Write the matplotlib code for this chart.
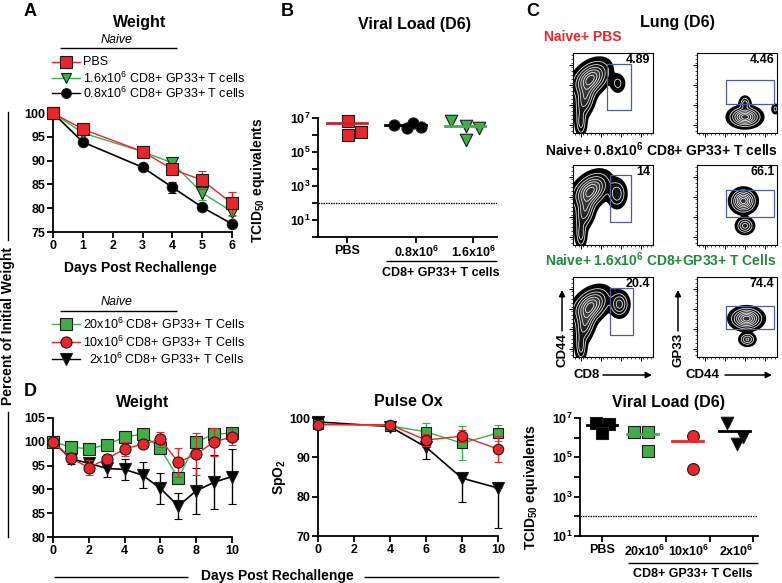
import matplotlib
matplotlib.use("Agg")
import matplotlib.pyplot as plt
import numpy as np
from matplotlib.colors import LinearSegmentedColormap
from matplotlib.patches import Rectangle
from matplotlib.ticker import NullLocator

plt.rcParams['font.family'] = 'Liberation Sans'
plt.rcParams['font.weight'] = 'bold'
plt.rcParams['mathtext.fontset'] = 'custom'
plt.rcParams['mathtext.rm'] = 'Liberation Sans:normal'
plt.rcParams['mathtext.it'] = 'Liberation Sans:italic:normal'
plt.rcParams['mathtext.bf'] = 'Liberation Sans:bold'

RED = '#e8262b'
GREEN = '#3fae49'
DKGREEN = '#23893a'
EDGE = '#1a1a1a'

# ---- panel A: weight, days post rechallenge
a_days = [0, 1, 3, 4, 5, 6]
a_pbs = [100, 96.6, 91.9, 88.2, 85.9, 81.0]
a_pbs_err = [0.3, 0.6, 1.0, 1.3, 1.9, 2.4]
a_16 = [100, 95.8, 91.9, 89.5, 83.2, 79.3]
a_16_err = [0.3, 0.5, 0.8, 1.3, 1.4, 1.0]
a_08 = [100, 93.9, 88.6, 84.4, 80.2, 76.7]
a_08_err = [0.3, 0.4, 0.5, 1.2, 0.5, 0.5]

# ---- panel D: weight
d_days = [0, 1, 2, 3, 4, 5, 6, 7, 8, 9, 10]
d_20 = [100, 98.9, 98.5, 99.4, 101.0, 101.6, 98.6, 92.3, 100.0, 101.6, 101.8]
d_20_err = [0.3, 0.4, 0.4, 0.5, 0.5, 0.5, 0.8, 1.0, 0.6, 0.5, 0.6]
d_10 = [100, 96.5, 94.6, 96.4, 98.5, 99.5, 100.5, 95.7, 97.4, 100.0, 101.0]
d_10_err = [0.3, 0.5, 1.6, 1.0, 1.5, 0.8, 1.6, 3.0, 4.4, 2.9, 1.7]
d_2 = [100, 96.4, 95.5, 94.4, 94.2, 93.0, 90.2, 86.5, 89.7, 91.5, 92.7]
d_2_err = [0.3, 1.0, 1.0, 1.8, 2.2, 2.8, 3.3, 2.8, 4.9, 5.7, 5.8]

# ---- panel D: pulse ox
p_days = [0, 4, 6, 8, 10]
p_20 = [98.5, 98.0, 96.5, 93.6, 96.2]
p_20_err = [0.5, 0.8, 2.2, 4.3, 2.0]
p_10 = [98.3, 98.3, 94.4, 95.4, 92.1]
p_10_err = [0.5, 0.8, 1.5, 1.5, 3.3]
p_2 = [99.0, 97.8, 92.6, 84.7, 82.2]
p_2_err = [0.3, 0.8, 3.0, 6.1, 10.2]

# ---- panel B: viral load (D6)
b_labels = ['PBS', r'0.8x$\mathbf{10^{6}}$', r'1.6x$\mathbf{10^{6}}$']
b_pbs = [6.3e6, 9.6e5, 1.6e6]
b_pbs_jit = [0.02, 0.02, 0.22]
b_08 = [4.1e6, 2.6e6, 4.9e6, 2.9e6]
b_08_jit = [-0.26, -0.05, 0.05, 0.17]
b_16 = [6.9e6, 3.5e6, 5.4e5, 2.6e6]
b_16_jit = [-0.35, -0.11, -0.11, 0.10]
b_means = [4.9e6, 3.7e6, 3.2e6]

# ---- panel C: viral load (D6), bottom
c_labels = ['PBS', r'20x$\mathbf{10^{6}}$', r'10x$\mathbf{10^{6}}$', r'2x$\mathbf{10^{6}}$']
c_pbs = [5.9e6, 4.9e6, 1.7e6]
c_pbs_jit = [-0.13, 0.16, 0.0]
c_20 = [2.0e6, 2.0e6, 2.2e5]
c_20_jit = [-0.29, 0.02, 0.02]
c_10 = [1.2e6, 2.6e4]
c_10_jit = [0.02, 0.02]
c_2 = [5.9e6, 1.1e6, 4.8e5]
c_2_jit = [-0.22, 0.13, 0.0]
c_means = [4.5e6, 1.5e6, 7.1e5, 2.3e6]
lod = 100

# ---- panel C: flow plots, gate percentages
flow_pct = [['4.89', '4.46'], ['14', '66.1'], ['20.4', '74.4']]

W, H = 782, 583
fig = plt.figure(figsize=(W / 100, H / 100), dpi=100)


def px_axes(l, t, r, b):
    return fig.add_axes([l / W, 1 - b / H, (r - l) / W, (b - t) / H])


ov = fig.add_axes([0, 0, 1, 1], zorder=-1)
ov.set_xlim(0, W)
ov.set_ylim(H, 0)
ov.axis('off')


def txt(x, y, s, size=9, weight='bold', ha='center', va='center', **kw):
    ov.text(x, y, s, fontsize=size, fontweight=weight, ha=ha, va=va, **kw)


def hline(x0, x1, y, lw=1.0):
    ov.plot([x0, x1], [y, y], color='k', lw=lw, solid_capstyle='butt')


def style(ax):
    for s in ['top', 'right']:
        ax.spines[s].set_visible(False)
    for s in ['left', 'bottom']:
        ax.spines[s].set_linewidth(1.3)
    ax.tick_params(direction='out', length=4, width=1.3, labelsize=9, pad=1.5)


def series(ax, x, y, e, color, marker, ms, mfc, lower_only=False, z=3, lw=1.0):
    yerr = [e, np.zeros(len(e))] if lower_only else e
    ax.errorbar(x, y, yerr=yerr, color=color, lw=lw, marker=marker, ms=ms,
                mfc=mfc, mec=EDGE, mew=0.8, capsize=3, elinewidth=1,
                capthick=1, clip_on=False, zorder=z)


# ================= panel A =================
axA = px_axes(53, 113, 232, 232)
style(axA)
series(axA, a_days, a_08, a_08_err, 'k', 'o', 7.5, 'k', z=3, lw=1.2)
series(axA, a_days, a_16, a_16_err, GREEN, 'v', 8, GREEN, z=4)
series(axA, a_days, a_pbs, a_pbs_err, RED, 's', 9, RED, z=5)
axA.set_xlim(0, 6)
axA.set_ylim(75, 100)
axA.set_xticks(range(0, 7))
axA.set_yticks(range(75, 101, 5))

txt(30, 12, 'A', 13)
txt(140, 22, 'Weight', 11.5)
hline(60, 177, 48)
txt(117, 40, 'Naive', 9, 'normal', style='italic')
legA = [(62, RED, 's', 8, r'PBS'),
        (78, GREEN, 'v', 7.5, r'1.6x$10^{6}$ CD8+ GP33+ T cells'),
        (93, 'k', 'o', 7, r'0.8x$10^{6}$ CD8+ GP33+ T cells')]
for y, c, m, ms, lab in legA:
    ov.plot([52, 80], [y, y], color=c, lw=1)
    ov.plot([66], [y], marker=m, ms=ms, color=c, mec=EDGE, mew=0.8)
    txt(83, y, lab, 9, 'normal', ha='left')
txt(140, 268, 'Days Post Rechallenge', 10)

hline(60, 177, 311)
txt(117, 302, 'Naive', 9, 'normal', style='italic')
legD = [(324, GREEN, 's', 8, 83, r'20x$10^{6}$ CD8+ GP33+ T Cells'),
        (342, RED, 'o', 8, 83, r'10x$10^{6}$ CD8+ GP33+ T Cells'),
        (359, 'k', 'v', 8, 89, r'2x$10^{6}$ CD8+ GP33+ T Cells')]
for y, c, m, ms, tx, lab in legD:
    ov.plot([52, 80], [y, y], color=c, lw=1)
    ov.plot([66], [y], marker=m, ms=ms, color=c, mec=EDGE, mew=0.8)
    txt(tx, y, lab, 9, 'normal', ha='left')

txt(8, 326, 'Percent of Initial Weight', 10, rotation=90)
ov.plot([8, 8], [112, 240], color='k', lw=1)
ov.plot([8, 8], [412, 537], color='k', lw=1)

# ================= panel D =================
axD1 = px_axes(53, 418, 232, 537)
style(axD1)
series(axD1, d_days, d_2, d_2_err, 'k', 'v', 8.5, 'k', z=3, lw=1.2)
series(axD1, d_days, d_20, d_20_err, GREEN, 's', 8, GREEN, z=4)
series(axD1, d_days, d_10, d_10_err, RED, 'o', 8, RED, z=5)
axD1.set_xlim(0, 10)
axD1.set_ylim(80, 105)
axD1.set_xticks(range(0, 11, 2))
axD1.set_yticks(range(80, 106, 5))

axD2 = px_axes(318, 418, 498, 536)
style(axD2)
series(axD2, p_days, p_2, p_2_err, 'k', 'v', 8, 'k', lower_only=True, z=3, lw=1.2)
series(axD2, p_days, p_20, p_20_err, GREEN, 's', 7, GREEN, z=4)
series(axD2, p_days, p_10, p_10_err, RED, 'o', 7.5, RED, z=5)
axD2.set_xlim(0, 10)
axD2.set_ylim(70, 100)
axD2.set_xticks(range(0, 11, 2))
axD2.set_yticks(range(70, 101, 10))

txt(30, 392, 'D', 13)
txt(143, 402, 'Weight', 11.5)
txt(408, 402, 'Pulse Ox', 11.5)
txt(279, 477, r'SpO$_{\mathbf{2}}$', 10, rotation=90)
txt(277, 576, 'Days Post Rechallenge', 10)
hline(54, 188, 577)
hline(364, 499, 577)


# ================= viral load panels =================
def dots(ax, x0, vals, jit, marker, ms, color):
    ax.scatter([x0 + j for j in jit], vals, marker=marker, s=ms ** 2, c=color,
               edgecolors=EDGE, linewidths=0.8, zorder=4, clip_on=False)


def mean_bar(ax, xc, v, color, half=0.32):
    ax.plot([xc - half, xc + half], [v, v], color=color, lw=2, zorder=5)


def log_axis(ax, lo, hi):
    ax.set_yscale('log')
    ax.set_ylim(10 ** lo, 10 ** hi)
    ks = list(range(lo, hi + 1))
    ax.set_yticks([10.0 ** k for k in ks])
    ax.set_yticklabels([r'$\mathbf{10^{%d}}$' % k if k % 2 == 1 else '' for k in ks])
    ax.yaxis.set_minor_locator(NullLocator())
    ax.axhline(lod, color='k', lw=0.9, ls=(0, (1.2, 0.8)), zorder=1)


axB = px_axes(318, 118, 497, 237)
style(axB)
log_axis(axB, 0, 7)
dots(axB, 0, b_pbs, b_pbs_jit, 's', 9, RED)
dots(axB, 1, b_08, b_08_jit, 'o', 8, 'k')
dots(axB, 2, b_16, b_16_jit, 'v', 9, GREEN)
mean_bar(axB, 0, b_means[0], '#c8232c')
mean_bar(axB, 0.93, b_means[1], 'k')
mean_bar(axB, 1.87, b_means[2], GREEN)
axB.set_xlim(-0.46, 2.38)
axB.set_xticks([0, 1.1, 2.0])
axB.set_xticklabels(b_labels)
txt(287, 12, 'B', 13)
txt(415, 24, 'Viral Load (D6)', 11.5)
txt(258, 180, r'TCID$_{\mathbf{50}}$ equivalents', 10, rotation=90)
hline(386, 497, 261)
txt(441, 273, 'CD8+ GP33+ T cells', 9)

axC = px_axes(580, 418, 758, 536)
style(axC)
log_axis(axC, 1, 7)
dots(axC, 0, c_pbs, c_pbs_jit, 's', 8.5, 'k')
dots(axC, 1, c_20, c_20_jit, 's', 8.5, GREEN)
dots(axC, 2, c_10, c_10_jit, 'o', 8.5, RED)
dots(axC, 3, c_2, c_2_jit, 'v', 9, 'k')
for i, (v, c) in enumerate(zip(c_means, ['k', GREEN, RED, 'k'])):
    mean_bar(axC, i - 0.1 * (i > 0) + 0.05 * (i == 3), v, c, half=0.34)
axC.set_xlim(-0.49, 3.47)
axC.set_xticks([0, 1.42, 2.4, 3.36])
axC.set_xticklabels(c_labels)
for i, lab in enumerate(axC.get_xticklabels()):
    lab.set_ha('center' if i == 0 else 'right')
txt(668, 402, 'Viral Load (D6)', 11.5)
txt(531, 487, r'TCID$_{\mathbf{50}}$ equivalents', 10, rotation=90)
hline(628, 758, 563)
txt(693, 574, 'CD8+ GP33+ T Cells', 9)

# ================= panel C: flow plots =================
flow_cmap = LinearSegmentedColormap.from_list(
    'flow', [(0.0, '#000000'), (0.4, '#1c1c1c'), (0.75, '#474747'), (1.0, '#2c2c2c')])

# blobs: (cx, cy, sx, sy, rho, weight) in plot-relative units
cd8_blobs = [
    [(0.22, 0.68, 0.115, 0.11, 0.4, 1.0), (0.15, 0.42, 0.065, 0.12, 0.35, 0.55),
     (0.10, 0.13, 0.035, 0.09, 0.0, 0.35), (0.56, 0.62, 0.05, 0.065, 0.0, 0.2)],
    [(0.22, 0.68, 0.115, 0.11, 0.4, 1.0), (0.15, 0.42, 0.065, 0.12, 0.35, 0.55),
     (0.10, 0.13, 0.035, 0.09, 0.0, 0.35), (0.55, 0.64, 0.06, 0.09, 0.0, 0.42)],
    [(0.22, 0.64, 0.115, 0.11, 0.4, 1.0), (0.15, 0.40, 0.065, 0.12, 0.35, 0.55),
     (0.10, 0.12, 0.035, 0.09, 0.0, 0.35), (0.58, 0.66, 0.06, 0.08, 0.0, 0.55)],
]
gp33_blobs = [
    [(0.60, 0.20, 0.095, 0.06, 0.0, 1.0), (0.60, 0.37, 0.035, 0.045, 0.0, 0.35),
     (0.98, 0.30, 0.025, 0.035, 0.0, 0.18)],
    [(0.58, 0.55, 0.075, 0.07, 0.0, 1.0), (0.60, 0.24, 0.055, 0.05, 0.0, 0.5)],
    [(0.62, 0.48, 0.095, 0.065, 0.0, 1.0), (0.63, 0.22, 0.05, 0.04, 0.0, 0.45)],
]
cd8_gates = [(0.42, 0.72, 0.29, 0.86), (0.46, 0.73, 0.29, 0.875), (0.46, 0.75, 0.28, 0.86)]
gp33_gates = [(0.36, 0.96, 0.36, 0.66), (0.36, 0.96, 0.35, 0.69), (0.36, 0.96, 0.35, 0.64)]


def flow(ax, blobs, gate, label):
    g = np.linspace(0, 1, 200)
    X, Y = np.meshgrid(g, g)
    Z = np.zeros_like(X)
    for cx, cy, sx, sy, rho, w in blobs:
        dx = (X - cx) / sx
        dy = (Y - cy) / sy
        Z += w * np.exp(-(dx ** 2 - 2 * rho * dx * dy + dy ** 2) / (2 * (1 - rho ** 2)))
    Z /= Z.max()
    ax.imshow(np.ma.masked_less(Z, 0.05), extent=(0, 1, 0, 1), origin='lower',
              cmap=flow_cmap, vmin=0.05, vmax=1.0, interpolation='bilinear',
              aspect='auto', zorder=1)
    ax.contour(X, Y, Z, levels=[0.14, 0.27, 0.42, 0.58, 0.75, 0.9], colors='#f2f2f2',
               linewidths=0.55, zorder=2)
    ax.contour(X, Y, Z, levels=[0.05], colors='black', linewidths=1.4, zorder=3)
    ax.add_patch(Rectangle((gate[0], gate[2]), gate[1] - gate[0], gate[3] - gate[2],
                           fill=False, ec='#4b5d9c', lw=0.9, zorder=5))
    ax.text(0.97, 0.985, label, transform=ax.transAxes, ha='right', va='top',
            fontsize=9, zorder=6)
    ax.set_xlim(0, 1)
    ax.set_ylim(0, 1)
    for s in ax.spines.values():
        s.set_linewidth(0.8)
    ax.set_xticks([0.1, 0.35, 0.6, 0.85])
    ax.set_yticks([0.1, 0.35, 0.6, 0.85])
    ax.set_xticks(np.arange(0.02, 1, 0.05), minor=True)
    ax.set_yticks(np.arange(0.02, 1, 0.05), minor=True)
    ax.tick_params(which='major', length=3, width=0.7, labelbottom=False, labelleft=False)
    ax.tick_params(which='minor', length=1.5, width=0.5)


rows = [(53, 133), (165, 245), (277, 357)]
cols = [(573, 653), (697, 777)]
for r, (t, b) in enumerate(rows):
    flow(px_axes(cols[0][0], t, cols[0][1], b), cd8_blobs[r], cd8_gates[r], flow_pct[r][0])
    flow(px_axes(cols[1][0], t, cols[1][1], b), gp33_blobs[r], gp33_gates[r], flow_pct[r][1])

txt(533, 12, 'C', 13)
txt(677, 22, 'Lung (D6)', 11.5)
txt(583, 37, 'Naive+ PBS', 10, color=RED)
txt(661, 150, r'Naive+ 0.8x$\mathbf{10^{6}}$ CD8+ GP33+ T cells', 10)
txt(661, 260, r'Naive+ 1.6x$\mathbf{10^{6}}$ CD8+GP33+ T Cells', 10, color=DKGREEN)

arrow = dict(arrowstyle='-|>', color='k', lw=1.1, mutation_scale=9, shrinkA=0, shrinkB=0)
txt(562, 350, 'CD44', 9.5, rotation=90)
ov.annotate('', xy=(562, 290), xytext=(562, 331), arrowprops=arrow)
txt(678, 350, 'GP33', 9.5, rotation=90)
ov.annotate('', xy=(678, 290), xytext=(678, 331), arrowprops=arrow)
txt(587, 375, 'CD8', 9.5)
ov.annotate('', xy=(652, 375), xytext=(603, 375), arrowprops=arrow)
txt(703, 375, 'CD44', 9.5)
ov.annotate('', xy=(772, 375), xytext=(725, 375), arrowprops=arrow)

fig.savefig('out.png', dpi=100)
